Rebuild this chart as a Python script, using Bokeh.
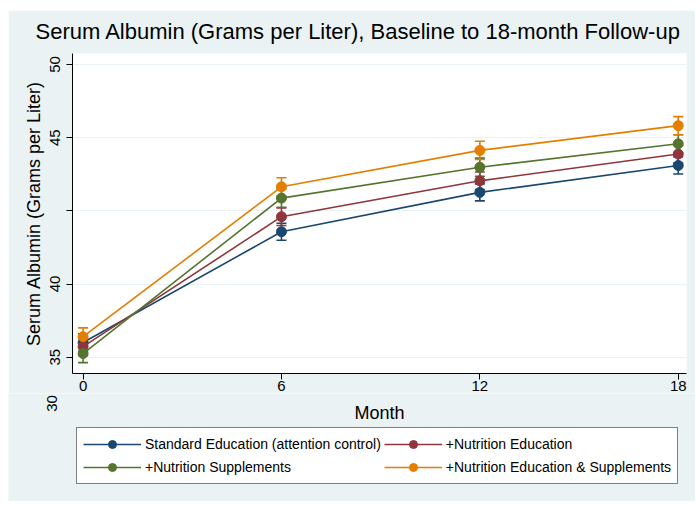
import math
from bokeh.plotting import figure
from bokeh.layouts import column
from bokeh.models import (ColumnDataSource, Whisker, TeeHead, FixedTicker, Range1d,
                          Legend, LegendItem, Label)
from bokeh.embed import file_html
from bokeh.resources import INLINE

# ---------------- data ----------------
months = [0, 6, 12, 18]
series_names = [
    "Standard Education (attention control)",
    "+Nutrition Education",
    "+Nutrition Supplements",
    "+Nutrition Education & Supplements",
]
standard_edu = [31.00, 38.57, 41.26, 43.10]
nutrition_edu = [30.72, 39.60, 42.05, 43.88]
nutrition_sup = [30.25, 40.87, 42.98, 44.58]
nutrition_edu_sup = [31.40, 41.64, 44.13, 45.82]

standard_edu_se = [0.60, 0.58, 0.58, 0.58]
nutrition_edu_se = [0.60, 0.60, 0.60, 0.60]
nutrition_sup_se = [0.62, 0.62, 0.62, 0.62]
nutrition_edu_sup_se = [0.60, 0.62, 0.62, 0.62]

y_tick_values = [30, 35, 40, 45, 50]
y_tick_labels = ["35", "40", "", "45", "50"]
extra_y_label = "30"
x_tick_values = [0, 6, 12, 18]
x_title = "Month"
y_title = "Serum Albumin (Grams per Liter)"
title = "Serum Albumin (Grams per Liter), Baseline to 18-month Follow-up"

colors = ["#1a476f", "#90353b", "#55752f", "#e37e00"]
BG = "#eaf2f3"
FONT = "Liberation Sans"

# ---------------- layout constants ----------------
X0, X1 = -0.32, 18.25
Y0, Y1 = 28.886, 50.75
FRAME_W, FRAME_H = 614, 320
LEFT, RIGHT, TOP = 64, 9, 43
FIG_W = LEFT + FRAME_W + RIGHT
LOWER_H = 108

all_vals = [standard_edu, nutrition_edu, nutrition_sup, nutrition_edu_sup]
all_se = [standard_edu_se, nutrition_edu_se, nutrition_sup_se, nutrition_edu_sup_se]

# ---------------- main figure ----------------
p = figure(frame_width=FRAME_W, frame_height=FRAME_H,
           output_backend="svg", toolbar_location=None,
           x_range=Range1d(X0, X1), y_range=Range1d(Y0, Y1),
           min_border_left=LEFT, min_border_right=RIGHT, min_border_top=TOP,
           min_border_bottom=0)
p.background_fill_color = "white"
p.border_fill_color = BG
p.outline_line_color = None

p.title.text = title
p.title.text_font = FONT
p.title.text_font_size = "22px"
p.title.text_font_style = "normal"
p.title.text_color = "black"
p.title.align = "left"
p.title.vertical_align = "top"
p.title.offset = -37
p.title.standoff = 15

p.xaxis.ticker = FixedTicker(ticks=x_tick_values)
p.yaxis.ticker = FixedTicker(ticks=y_tick_values)
p.yaxis.major_label_overrides = {v: l for v, l in zip(y_tick_values, y_tick_labels)}
p.yaxis.major_label_orientation = "vertical"
for ax in (p.xaxis, p.yaxis):
    ax.axis_line_color = "black"
    ax.axis_line_width = 1
    ax.major_tick_line_color = "black"
    ax.major_tick_out = 6
    ax.major_tick_in = 0
    ax.minor_tick_line_color = None
    ax.major_label_text_font = FONT
    ax.major_label_text_font_size = "15px"
    ax.major_label_text_color = "black"
    ax.axis_label_text_font = FONT
    ax.axis_label_text_font_size = "18px"
    ax.axis_label_text_font_style = "normal"
    ax.axis_label_text_color = "black"
p.yaxis.axis_label = y_title
p.xaxis.major_label_standoff = 1
p.yaxis.major_label_standoff = 6
p.yaxis.axis_label_standoff = 4

p.xgrid.grid_line_color = None
p.ygrid.grid_line_color = BG
p.ygrid.grid_line_width = 1

for vals, se, c in zip(all_vals, all_se, colors):
    src = ColumnDataSource(dict(
        x=months, y=vals,
        upper=[v + s for v, s in zip(vals, se)],
        lower=[v - s for v, s in zip(vals, se)],
    ))
    p.add_layout(Whisker(source=src, base="x", upper="upper", lower="lower",
                         dimension="height", line_color=c, line_width=1.6,
                         upper_head=TeeHead(size=10, line_color=c, line_width=1.6),
                         lower_head=TeeHead(size=10, line_color=c, line_width=1.6)))
    p.line("x", "y", source=src, line_color=c, line_width=1.6)
    p.scatter("x", "y", source=src, size=10, fill_color=c, line_color=c)

# ---------------- lower strip: x title, stray "30" label, legend ----------------
k = FRAME_W / (X1 - X0)
p2 = figure(width=FIG_W, height=LOWER_H, output_backend="svg", toolbar_location=None,
            x_range=Range1d(X0 - LEFT / k, X1 + RIGHT / k), y_range=Range1d(0, LOWER_H),
            x_axis_type=None, y_axis_type=None, min_border=0,
            min_border_left=0, min_border_right=0, min_border_top=0, min_border_bottom=0)
p2.background_fill_color = BG
p2.border_fill_color = BG
p2.outline_line_color = None
for fig in (p, p2):
    try:
        fig.frame_align = False
    except Exception:
        pass

p2.add_layout(Label(x=(X0 + X1) / 2, y=LOWER_H - 19, text=x_title,
                    text_align="center", text_baseline="middle",
                    text_font=FONT, text_font_size="18px", text_color="black"))
p2.add_layout(Label(x=-0.94, y=LOWER_H - 10, text=extra_y_label, angle=math.pi / 2,
                    text_align="center", text_baseline="middle",
                    text_font=FONT, text_font_size="15px", text_color="black"))

# legend keys: the same series, drawn on a range that lies outside this strip
p2.extra_y_ranges = {"keys": Range1d(1000, 1001)}
items = []
for name, vals, c in zip(series_names, all_vals, colors):
    ksrc = ColumnDataSource(dict(x=months, y=vals))
    r_line = p2.line("x", "y", source=ksrc, line_color=c, line_width=1.6,
                     y_range_name="keys")
    r_pt = p2.scatter("x", "y", source=ksrc, size=10, fill_color=c, line_color=c,
                      y_range_name="keys")
    items.append(LegendItem(label=name, renderers=[r_line, r_pt]))

legend = Legend(items=items, location=(68, 17), orientation="horizontal", ncols=2,
                background_fill_color="white", background_fill_alpha=1,
                border_line_color="black", border_line_width=1,
                label_text_font=FONT, label_text_font_size="14px",
                label_text_color="black",
                glyph_width=58, glyph_height=20, label_standoff=4,
                padding=6, spacing=3, margin=0)
p2.add_layout(legend, "center")

layout = column(p, p2, spacing=0, margin=(10, 0, 0, 8))
open("out.html", "w").write(file_html(layout, INLINE))
